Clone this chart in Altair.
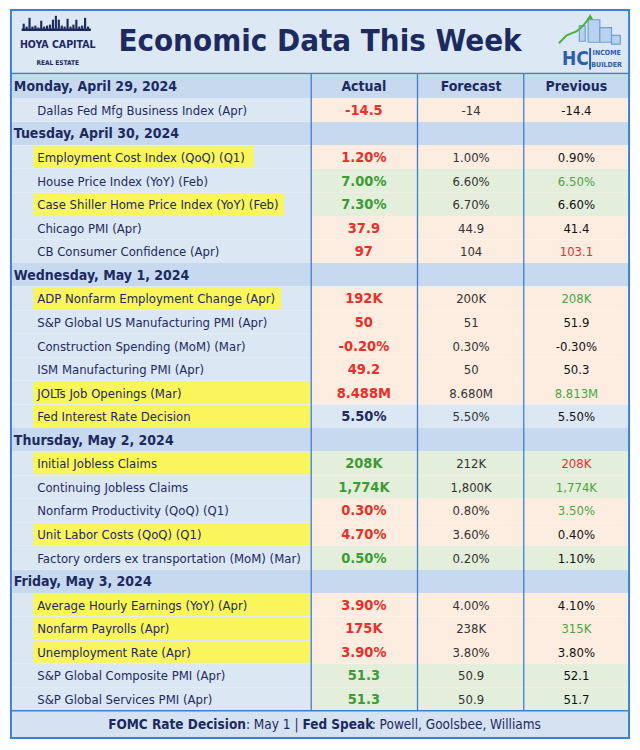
import altair as alt
import pandas as pd

# ---------------- data ----------------
day_headers = [
    "Monday, April 29, 2024",
    "Tuesday, April 30, 2024",
    "Wednesday, May 1, 2024",
    "Thursday, May 2, 2024",
    "Friday, May 3, 2024",
]
items_per_day = [1, 5, 6, 5, 5]
indicators = [
    "Dallas Fed Mfg Business Index (Apr)",
    "Employment Cost Index (QoQ) (Q1)",
    "House Price Index (YoY) (Feb)",
    "Case Shiller Home Price Index (YoY) (Feb)",
    "Chicago PMI (Apr)",
    "CB Consumer Confidence (Apr)",
    "ADP Nonfarm Employment Change (Apr)",
    "S&P Global US Manufacturing PMI (Apr)",
    "Construction Spending (MoM) (Mar)",
    "ISM Manufacturing PMI (Apr)",
    "JOLTs Job Openings (Mar)",
    "Fed Interest Rate Decision",
    "Initial Jobless Claims",
    "Continuing Jobless Claims",
    "Nonfarm Productivity (QoQ) (Q1)",
    "Unit Labor Costs (QoQ) (Q1)",
    "Factory orders ex transportation (MoM) (Mar)",
    "Average Hourly Earnings (YoY) (Apr)",
    "Nonfarm Payrolls (Apr)",
    "Unemployment Rate (Apr)",
    "S&P Global Composite PMI (Apr)",
    "S&P Global Services PMI (Apr)",
]
actual = ["-14.5", "1.20%", "7.00%", "7.30%", "37.9", "97", "192K", "50", "-0.20%", "49.2",
          "8.488M", "5.50%", "208K", "1,774K", "0.30%", "4.70%", "0.50%", "3.90%", "175K",
          "3.90%", "51.3", "51.3"]
forecast = ["-14", "1.00%", "6.60%", "6.70%", "44.9", "104", "200K", "51", "0.30%", "50",
            "8.680M", "5.50%", "212K", "1,800K", "0.80%", "3.60%", "0.20%", "4.00%", "238K",
            "3.80%", "50.9", "50.9"]
previous = ["-14.4", "0.90%", "6.50%", "6.60%", "41.4", "103.1", "208K", "51.9", "-0.30%", "50.3",
            "8.813M", "5.50%", "208K", "1,774K", "3.50%", "0.40%", "1.10%", "4.10%", "315K",
            "3.80%", "52.1", "51.7"]
outcome = ["bad", "bad", "good", "good", "bad", "bad", "bad", "bad", "bad", "bad", "bad",
           "neutral", "good", "good", "bad", "bad", "good", "bad", "bad", "bad", "good", "good"]
previous_tone = ["plain", "plain", "good", "plain", "plain", "bad", "good", "plain", "plain", "plain",
                 "good", "plain", "bad", "good", "good", "plain", "plain", "plain", "good", "plain",
                 "plain", "plain"]
highlighted = [False, True, False, True, False, False, True, False, False, False, True, True,
               True, False, False, True, False, True, True, True, False, False]
column_headers = ["Actual", "Forecast", "Previous"]
title = "Economic Data This Week"
footer_parts = ["FOMC Rate Decision", ": May 1 |", "Fed Speak", ": Powell, Goolsbee, Williams"]
logo_texts = ["HOYA CAPITAL", "REAL ESTATE", "HC", "INCOME", "BUILDER"]

# ---------------- layout (reference pixel units) ----------------
W, H = 624, 734
ROW0, ROWH = 80.0, 24.08


def ry(py):
    return (py - ROW0) / ROWH


XS = alt.Scale(domain=[0, 640], nice=False, zero=False)
YS = alt.Scale(domain=[ry(0), ry(750)], nice=False, zero=False, reverse=True)


def X(f):
    return alt.X(f"{f}:Q", scale=XS, axis=None)


def Y(f):
    return alt.Y(f"{f}:Q", scale=YS, axis=None)


def X2(f):
    return alt.X2(f"{f}:Q")


def Y2(f):
    return alt.Y2(f"{f}:Q")


LEFT, RIGHT = 3, 637
COL_EDGES = [311, 420, 529]
COL_CENTERS = [365, 475, 583]
HL_END = {1: 252, 3: 283, 6: 280}

NAVY = "#1c2a5f"
BLUE = "#3f7fd2"
RED = "#e8302a"
GREEN = "#3d9b34"
GREEN_LIGHT = "#4ba541"
LOGO_BLUE = "#2d5ea8"
FILL = {"bad": "#fcede0", "good": "#e3eedb", "neutral": "#dce7f4"}
ACT_COLOR = {"bad": RED, "good": GREEN, "neutral": NAVY}
PREV_COLOR = {"plain": "#111111", "good": GREEN_LIGHT, "bad": RED}

rows = []
r = 0
k = 0
for d, n in zip(day_headers, items_per_day):
    rows.append(dict(row=r, kind="day", label=d))
    r += 1
    for _ in range(n):
        rows.append(dict(row=r, kind="item", label=indicators[k], actual=actual[k],
                         forecast=forecast[k], previous=previous[k], outcome=outcome[k],
                         ptone=previous_tone[k], hl=highlighted[k], idx=k))
        r += 1
        k += 1
df = pd.DataFrame(rows)
df["top"] = df["row"] - 0.5
df["bot"] = df["row"] + 0.5
df["x0"] = LEFT
df["x1"] = RIGHT
df["xc"] = COL_EDGES[0]

days = df[df.kind == "day"].copy()
items = df[df.kind == "item"].copy()
items["fill"] = items["outcome"].map(FILL)
items["acol"] = items["outcome"].map(ACT_COLOR)
items["pcol"] = items["ptone"].map(PREV_COLOR)
items["c1"] = COL_CENTERS[0]
items["c2"] = COL_CENTERS[1]
items["c3"] = COL_CENTERS[2]
items["lx"] = 30

hl = items[items.hl].copy()
hl["hx0"] = 26
hl["hx1"] = [HL_END.get(i, 310) for i in hl["idx"]]
hl["ht"] = hl["row"] - 0.46
hl["hb"] = hl["row"] + 0.46

n_rows = len(df)
table_top = ry(67)
table_bot = n_rows - 0.5
foot_bot = ry(746)


def rect_df(x0, x1, y0, y1):
    return pd.DataFrame({"x0": [x0], "x1": [x1], "y0": [y0], "y1": [y1]})


# backgrounds
bg_header = alt.Chart(rect_df(LEFT, RIGHT, ry(2), table_top)).mark_rect(
    color="#dde8f5").encode(x=X("x0"), x2=X2("x1"), y=Y("y0"), y2=Y2("y1"))
bg_days = alt.Chart(days).mark_rect(color="#c6d9ef").encode(x=X("x0"), x2=X2("x1"), y=Y("top"), y2=Y2("bot"))
bg_labels = alt.Chart(items).mark_rect(color="#dce7f4").encode(x=X("x0"), x2=X2("xc"), y=Y("top"), y2=Y2("bot"))
bg_vals = alt.Chart(items).mark_rect().encode(
    x=X("xc"), x2=X2("x1"), y=Y("top"), y2=Y2("bot"), color=alt.Color("fill:N", scale=None))
bg_hl = alt.Chart(hl).mark_rect(color="#faf55a").encode(x=X("hx0"), x2=X2("hx1"), y=Y("ht"), y2=Y2("hb"))
bg_foot = alt.Chart(rect_df(LEFT, RIGHT, table_bot, foot_bot)).mark_rect(
    color="#d5e2f2").encode(x=X("x0"), x2=X2("x1"), y=Y("y0"), y2=Y2("y1"))

# lines
vlines = alt.Chart(pd.DataFrame({"x": COL_EDGES, "y0": table_top, "y1": table_bot})).mark_rule(
    color=BLUE, strokeWidth=1.3).encode(x=X("x"), y=Y("y0"), y2=Y2("y1"))
hlines = alt.Chart(pd.DataFrame({"x0": LEFT, "x1": RIGHT, "y": [table_top, table_bot]})).mark_rule(
    color=BLUE, strokeWidth=1.5).encode(x=X("x0"), x2=X2("x1"), y=Y("y"))
frame = alt.Chart(rect_df(LEFT, RIGHT, ry(2), foot_bot)).mark_rect(
    fill=None, stroke=BLUE, strokeWidth=2).encode(x=X("x0"), x2=X2("x1"), y=Y("y0"), y2=Y2("y1"))

FONT = "DejaVu Sans Condensed, Roboto, sans-serif"

# texts
t_days = alt.Chart(days.assign(lx=6)).mark_text(
    align="left", baseline="middle", font=FONT, fontWeight="bold", fontSize=14, color=NAVY, dy=1
).encode(x=X("lx"), y=Y("row"), text="label:N")
t_cols = alt.Chart(pd.DataFrame({"x": COL_CENTERS, "row": 0, "t": column_headers})).mark_text(
    align="center", baseline="middle", font=FONT, fontWeight="bold", fontSize=14, color=NAVY, dy=1
).encode(x=X("x"), y=Y("row"), text="t:N")
t_labels = alt.Chart(items).mark_text(
    align="left", baseline="middle", font=FONT, fontSize=13, color=NAVY, dy=1
).encode(x=X("lx"), y=Y("row"), text="label:N")
t_act = alt.Chart(items).mark_text(
    align="center", baseline="middle", font=FONT, fontWeight="bold", fontSize=14.5, dy=1
).encode(x=X("c1"), y=Y("row"), text="actual:N", color=alt.Color("acol:N", scale=None))
t_fc = alt.Chart(items).mark_text(
    align="center", baseline="middle", font=FONT, fontSize=13, color="#333333", dy=1
).encode(x=X("c2"), y=Y("row"), text="forecast:N")
t_prev = alt.Chart(items).mark_text(
    align="center", baseline="middle", font=FONT, fontSize=13, dy=1
).encode(x=X("c3"), y=Y("row"), text="previous:N", color=alt.Color("pcol:N", scale=None))

t_title = alt.Chart(pd.DataFrame({"x": [320], "y": [ry(35)], "t": [title]})).mark_text(
    align="center", baseline="middle", font=FONT, fontWeight="bold", fontSize=31, color=NAVY
).encode(x=X("x"), y=Y("y"), text="t:N")

# ---- logos (decoration) ----
logo_df = pd.DataFrame({
    "x": [51, 51, 582, 614, 614],
    "y": [ry(38), ry(56), ry(52), ry(46), ry(58)],
    "t": logo_texts,
    "s": [10.5, 6.5, 19, 7, 7],
    "c": [NAVY, NAVY, LOGO_BLUE, LOGO_BLUE, LOGO_BLUE],
})
t_logo = alt.Chart(logo_df).mark_text(
    align="center", baseline="middle", font=FONT, fontWeight="bold"
).encode(x=X("x"), y=Y("y"), text="t:N", size=alt.Size("s:Q", scale=None),
         color=alt.Color("c:N", scale=None))

# skyline silhouette above HOYA CAPITAL (building tops, decorative)
sky_x = [15, 18, 21, 24, 27, 30, 33, 36, 39, 42, 45, 48, 51, 54, 57, 60, 63, 66, 69, 72, 75, 78, 81]
sky_top = [16, 19, 10, 19, 18, 20, 13, 19, 18, 17, 12, 8, 12, 18, 19, 11, 19, 17, 12, 19, 18, 10, 19]
sky = pd.DataFrame({"x0": sky_x, "x1": [v + 2.2 for v in sky_x],
                    "y0": [ry(v) for v in sky_top], "y1": ry(23)})
skyline = alt.Chart(sky).mark_rect(color=NAVY).encode(x=X("x0"), x2=X2("x1"), y=Y("y0"), y2=Y2("y1"))
sky_base = alt.Chart(rect_df(14, 85, ry(21), ry(23.5))).mark_rect(color=NAVY).encode(
    x=X("x0"), x2=X2("x1"), y=Y("y0"), y2=Y2("y1"))

divider = alt.Chart(pd.DataFrame({"x": [597], "y0": [ry(41)], "y1": [ry(63)]})).mark_rule(
    color=LOGO_BLUE, strokeWidth=2).encode(x=X("x"), y=Y("y0"), y2=Y2("y1"))
bld = pd.DataFrame({
    "x0": [595, 607, 619, 586],
    "x1": [607, 619, 628, 592],
    "y0": [ry(12), ry(20), ry(28), ry(18)],
    "y1": [ry(35), ry(35), ry(37), ry(34)],
})
buildings = alt.Chart(bld).mark_rect(fill="#b9d2ee", stroke="#6f9fd6", strokeWidth=1.2).encode(
    x=X("x0"), x2=X2("x1"), y=Y("y0"), y2=Y2("y1"))
arrow_pts = pd.DataFrame({"x": [565, 573, 583, 590, 597], "y": [ry(36), ry(28), ry(24), ry(18), ry(9)], "o": range(5)})
arrow = alt.Chart(arrow_pts).mark_line(color="#4caf3c", strokeWidth=2).encode(
    x=X("x"), y=Y("y"), order="o:O")
arrow_head = alt.Chart(arrow_pts.tail(1)).mark_point(
    shape="triangle-up", filled=True, color="#4caf3c", size=40, opacity=1).encode(x=X("x"), y=Y("y"))

# ---- footer ----
foot_df = pd.DataFrame({
    "x": [244, 244, 302, 373],
    "y": ry(732),
    "t": footer_parts,
})
t_foot_r = alt.Chart(foot_df.iloc[[0]]).mark_text(
    align="right", baseline="middle", font=FONT, fontWeight="bold", fontSize=13.5, color=NAVY, dy=1
).encode(x=X("x"), y=Y("y"), text="t:N")
t_foot_n = alt.Chart(foot_df.iloc[[1, 3]]).mark_text(
    align="left", baseline="middle", font=FONT, fontSize=13.5, color=NAVY, dy=1
).encode(x=X("x"), y=Y("y"), text="t:N")
t_foot_b = alt.Chart(foot_df.iloc[[2]]).mark_text(
    align="left", baseline="middle", font=FONT, fontWeight="bold", fontSize=13.5, color=NAVY, dy=1
).encode(x=X("x"), y=Y("y"), text="t:N")

chart = alt.layer(
    bg_header, bg_days, bg_labels, bg_vals, bg_hl, bg_foot,
    vlines, hlines, frame,
    t_days, t_cols, t_labels, t_act, t_fc, t_prev, t_title,
    skyline, sky_base, buildings, arrow, arrow_head, divider, t_logo,
    t_foot_r, t_foot_n, t_foot_b,
).properties(
    width=W, height=H, padding=0,
    autosize=alt.AutoSizeParams(type="fit", contains="padding"),
    background="white",
).configure_view(stroke=None)

chart.save("out.html", embed_options={"renderer": "svg", "actions": False})
